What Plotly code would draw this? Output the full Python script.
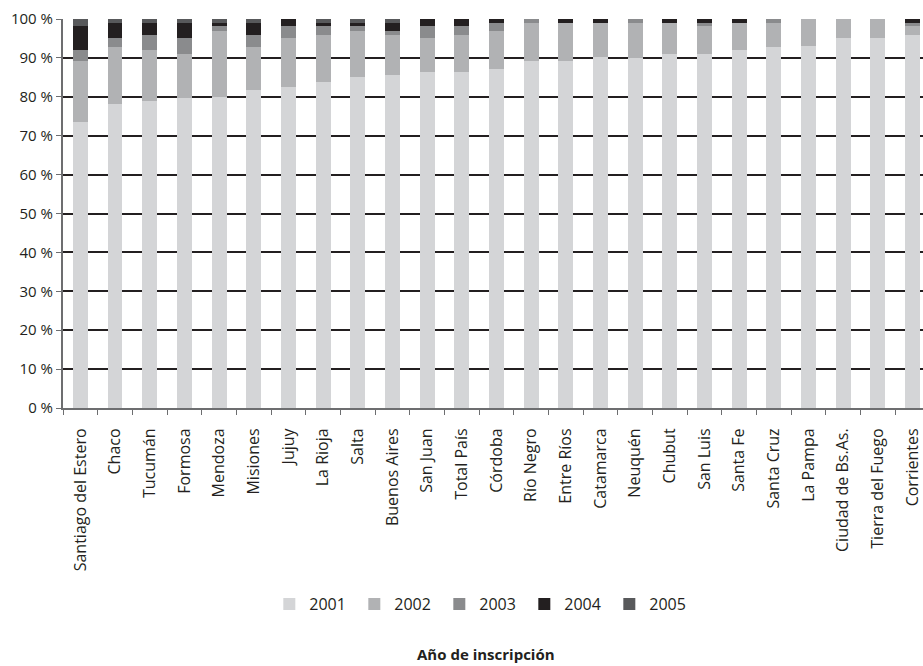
import plotly.graph_objects as go

provincias = ["Santiago del Estero", "Chaco", "Tucumán", "Formosa", "Mendoza", "Misiones",
              "Jujuy", "La Rioja", "Salta", "Buenos Aires", "San Juan", "Total País",
              "Córdoba", "Río Negro", "Entre Ríos", "Catamarca", "Neuquén", "Chubut",
              "San Luis", "Santa Fe", "Santa Cruz", "La Pampa", "Ciudad de Bs.As.",
              "Tierra del Fuego", "Corrientes"]

v2001 = [73.5, 78.2, 79.0, 79.7, 80.0, 81.7, 82.5, 83.7, 85.2, 85.5, 86.5, 86.5,
         87.2, 89.2, 89.2, 90.2, 90.0, 91.0, 91.0, 92.1, 92.9, 93.0, 95.1, 95.1, 95.9]
v2002 = [15.7, 14.7, 13.1, 11.2, 17.0, 11.2, 12.6, 12.2, 11.8, 10.4, 8.6, 9.4,
         9.8, 9.7, 9.7, 8.7, 8.9, 7.9, 7.1, 6.8, 6.0, 7.0, 4.9, 4.9, 2.2]
v2003 = [2.8, 2.2, 3.8, 4.2, 1.1, 3.0, 3.0, 2.2, 1.1, 1.1, 3.0, 2.2,
         1.9, 1.1, 0.0, 0.0, 1.1, 0.0, 0.8, 0.0, 1.1, 0.0, 0.0, 0.0, 0.8]
v2004 = [6.2, 3.8, 3.0, 3.8, 0.8, 3.0, 1.9, 0.8, 0.8, 1.9, 1.9, 1.9,
         1.1, 0.0, 1.1, 1.1, 0.0, 1.1, 1.1, 1.1, 0.0, 0.0, 0.0, 0.0, 1.1]
v2005 = [1.8, 1.1, 1.1, 1.1, 1.1, 1.1, 0.0, 1.1, 1.1, 1.1, 0.0, 0.0,
         0.0, 0.0, 0.0, 0.0, 0.0, 0.0, 0.0, 0.0, 0.0, 0.0, 0.0, 0.0, 0.0]

series = [("2001", v2001, "#d4d5d7"), ("2002", v2002, "#b1b2b4"),
          ("2003", v2003, "#8a8b8d"), ("2004", v2004, "#231f20"),
          ("2005", v2005, "#58595b")]

FONT = "Open Sans"
TXT = "#231f20"

fig = go.Figure()
for name, vals, col in series:
    fig.add_trace(go.Bar(x=provincias, y=vals, name=name,
                         marker=dict(color=col, line=dict(width=0))))

fig.update_layout(
    width=923, height=666,
    barmode="stack", bargap=0.57,
    plot_bgcolor="white", paper_bgcolor="white",
    margin=dict(l=63, r=0, t=19, b=258),
    font=dict(family=FONT, size=15, color=TXT),
    legend=dict(orientation="h", x=0.487, xanchor="center", y=-0.504, yanchor="middle",
                font=dict(size=16, color=TXT), itemwidth=30, entrywidth=40,
                traceorder="normal"),
    yaxis=dict(range=[0, 100], dtick=10, ticksuffix=" %", showgrid=True,
               gridcolor="#231f20", gridwidth=2, showline=True, linecolor="#6d6e70",
               linewidth=2, ticks="outside", ticklen=5, tickcolor="#6d6e70",
               tickfont=dict(size=15, color=TXT), zeroline=False),
    xaxis=dict(range=[-0.5, 24.3], tickangle=-90, showline=True, linecolor="#6d6e70",
               linewidth=2, ticks="outside", tickson="boundaries", ticklen=5,
               tickcolor="#6d6e70", ticklabelstandoff=12,
               tickfont=dict(size=16, color=TXT)),
    annotations=[dict(text="<b>Año de inscripción</b>", x=0.492, y=-0.632,
                      xref="paper", yref="paper", showarrow=False,
                      font=dict(size=15, color=TXT), xanchor="center", yanchor="middle")],
)

fig.write_html("out.html", config={"displayModeBar": False},
               post_script="document.body.style.margin='0';document.body.style.overflow='hidden';")
